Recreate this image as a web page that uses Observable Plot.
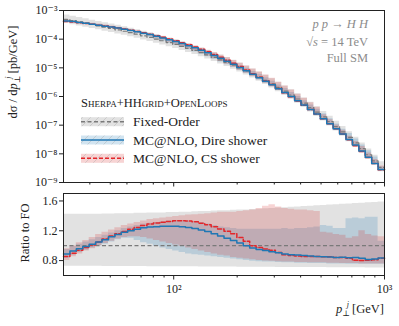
<!DOCTYPE html>
<html><head><meta charset="utf-8">
<script src="https://cdn.jsdelivr.net/npm/d3@7"></script>
<script src="https://cdn.jsdelivr.net/npm/@observablehq/plot@0.6"></script>
<style>
body{margin:0;background:#fff}
#fig{position:relative;width:399px;height:326px}
#fig svg{position:absolute;left:0}
#fig text, #fig tspan{font-family:"Liberation Serif","DejaVu Serif",serif !important}
</style></head><body><div id="fig"></div>
<script>
// bin edges (GeV)
const edges = [30.0,32.18,34.52,37.03,39.72,42.60,45.70,49.02,52.58,56.40,60.50,64.89,69.60,74.66,80.08,85.90,92.14,98.84,106.02,113.72,121.98,130.85,140.35,150.55,161.49,173.21,185.80,199.30,213.78,229.31,245.97,263.84,283.01,303.58,325.63,349.29,374.67,401.90,431.10,462.42,496.02,532.06,570.72,612.19,656.67,704.39,755.57,810.47,869.36,932.53,1000];
// fixed-order dsigma/dpT (pb/GeV)
const fo = [4.88e-4,4.41e-4,3.99e-4,3.60e-4,3.25e-4,2.93e-4,2.63e-4,2.36e-4,2.12e-4,1.89e-4,
1.68e-4,1.49e-4,1.31e-4,1.155e-4,1.01e-4,8.80e-5,7.62e-5,6.57e-5,5.62e-5,4.78e-5,
4.04e-5,3.39e-5,2.82e-5,2.33e-5,1.91e-5,1.55e-5,1.25e-5,9.96e-6,7.87e-6,6.16e-6,
4.77e-6,3.66e-6,2.78e-6,2.08e-6,1.54e-6,1.13e-6,8.17e-7,5.83e-7,4.11e-7,2.86e-7,
1.96e-7,1.33e-7,8.86e-8,5.82e-8,3.77e-8,2.40e-8,1.51e-8,9.30e-9,5.65e-9,3.37e-9];
// ratios to FO
const foHi = [1.42,1.42,1.42,1.42,1.42,1.42,1.425,1.425,1.43,1.43,1.43,1.435,1.435,1.44,1.44,1.44,1.445,1.445,1.45,1.45,1.455,1.46,1.46,1.465,1.47,1.47,1.475,1.48,1.48,1.485,1.49,1.495,1.50,1.505,1.51,1.515,1.52,1.525,1.53,1.535,1.54,1.545,1.55,1.555,1.56,1.565,1.57,1.575,1.58,1.585];
const foLo = [0.725,0.725,0.724,0.724,0.723,0.723,0.722,0.722,0.721,0.721,0.72,0.72,0.72,0.719,0.719,0.718,0.718,0.717,0.717,0.716,0.716,0.715,0.715,0.714,0.714,0.713,0.713,0.712,0.712,0.711,0.711,0.71,0.71,0.709,0.709,0.708,0.708,0.707,0.707,0.706,0.706,0.705,0.705,0.704,0.704,0.703,0.703,0.702,0.702,0.70];
const direR = [0.89,0.93,0.96,0.99,1.02,1.05,1.08,1.12,1.15,1.18,1.20,1.22,1.24,1.25,1.255,1.26,1.262,1.26,1.255,1.245,1.23,1.21,1.19,1.16,1.13,1.10,1.07,1.035,1.00,0.97,0.95,0.935,0.92,0.905,0.89,0.88,0.875,0.867,0.86,0.855,0.852,0.848,0.84,0.845,0.838,0.84,0.83,0.815,0.82,0.835];
const direLo = [0.83,0.87,0.91,0.94,0.97,1.00,1.02,1.05,1.08,1.10,1.10,1.07,1.04,1.02,0.99,0.97,0.95,0.93,0.91,0.89,0.88,0.87,0.86,0.85,0.84,0.83,0.82,0.81,0.80,0.79,0.785,0.78,0.78,0.775,0.77,0.77,0.765,0.765,0.76,0.76,0.76,0.755,0.755,0.755,0.75,0.75,0.75,0.75,0.75,0.75];
const direHi = [0.95,0.99,1.02,1.05,1.08,1.11,1.14,1.17,1.20,1.23,1.25,1.27,1.29,1.30,1.31,1.32,1.33,1.33,1.33,1.33,1.32,1.31,1.29,1.27,1.25,1.24,1.23,1.22,1.22,1.22,1.22,1.22,1.22,1.22,1.23,1.22,1.23,1.23,1.24,1.25,1.27,1.26,1.23,1.23,1.36,1.37,1.36,1.38,1.38,1.06];
const csR = [0.855,0.90,0.94,0.975,1.01,1.05,1.09,1.13,1.16,1.19,1.22,1.245,1.27,1.29,1.305,1.315,1.325,1.335,1.335,1.33,1.32,1.30,1.28,1.255,1.225,1.195,1.16,1.11,1.06,1.00,0.975,0.955,0.94,0.91,0.88,0.868,0.86,0.855,0.854,0.856,0.852,0.85,0.842,0.84,0.83,0.805,0.80,0.805,0.81,0.83];
const csLo = [0.80,0.85,0.89,0.93,0.96,1.00,1.03,1.06,1.09,1.11,1.12,1.12,1.11,1.09,1.07,1.05,1.03,1.01,0.99,0.97,0.95,0.93,0.91,0.89,0.87,0.86,0.84,0.83,0.82,0.81,0.80,0.795,0.79,0.785,0.78,0.78,0.775,0.775,0.77,0.77,0.77,0.765,0.765,0.76,0.76,0.76,0.755,0.755,0.755,0.755];
const csHi = [0.96,1.00,1.04,1.07,1.11,1.15,1.18,1.21,1.24,1.27,1.29,1.31,1.33,1.35,1.36,1.37,1.38,1.39,1.40,1.41,1.415,1.42,1.43,1.44,1.45,1.45,1.45,1.46,1.47,1.48,1.50,1.53,1.55,1.52,1.50,1.49,1.48,1.48,1.47,1.46,1.18,1.17,1.15,1.14,1.10,1.12,1.20,1.15,1.13,1.12];
// ticks
const yTicksTop = [1e-3,1e-4,1e-5,1e-6,1e-7,1e-8,1e-9];
const yTicksRatio = [0.8,1.2,1.6];
const xMajor = [100,1000];
const xMinor = [40,50,60,70,80,90,200,300,400,500,600,700,800,900];
const legendTitle = "Sherpa+HHgrid+OpenLoops";
const legendLabels = ["Fixed-Order","MC@NLO, Dire shower","MC@NLO, CS shower"];

const C = {blue:"#1f77b4", red:"#e3262a", grey:"#7a7a7a"};

function line(vals, scale){
  const pts = vals.map((v,i)=>({x:edges[i], y:v*(scale?scale[i]:1)}));
  pts.push({x:edges[edges.length-1], y:pts[pts.length-1].y});
  return pts;
}
function band(lo, hi, scale){
  const pts = lo.map((v,i)=>({x:edges[i], y1:v*(scale?scale[i]:1), y2:hi[i]*(scale?scale[i]:1)}));
  const l = pts[pts.length-1];
  pts.push({x:edges[edges.length-1], y1:l.y1, y2:l.y2});
  return pts;
}
const sup = {"-":"⁻","0":"⁰","1":"¹","2":"²","3":"³","4":"⁴","5":"⁵","6":"⁶","7":"⁷","8":"⁸","9":"⁹"};
const pow = d => "10" + String(Math.round(Math.log10(d))).split("").map(c=>sup[c]).join("");

function layers(scale){
  return [
    Plot.areaY(band(foLo, foHi, scale), {x:"x", y1:"y1", y2:"y2", curve:"step-after", fill:"#b4b4b4", fillOpacity:0.38}),
    Plot.areaY(band(direLo, direHi, scale), {x:"x", y1:"y1", y2:"y2", curve:"step-after", fill:C.blue, fillOpacity:0.2}),
    Plot.areaY(band(csLo, csHi, scale), {x:"x", y1:"y1", y2:"y2", curve:"step-after", fill:"#d62728", fillOpacity:0.2}),
  ];
}
const plotStyle = {fontFamily:"Liberation Serif", fontSize:"12px", background:"transparent", color:"#222", overflow:"visible"};

const topPlot = Plot.plot({
  width:399, height:186, marginLeft:63, marginRight:15, marginTop:10, marginBottom:4,
  style: plotStyle,
  x:{type:"log", domain:[30,1000], label:null},
  y:{type:"log", domain:[1e-9,1e-3], label:null},
  marks:[
    ...layers(fo),
    Plot.line(line(fo), {x:"x", y:"y", curve:"step-after", stroke:C.grey, strokeWidth:1.2, strokeDasharray:"4,2.5"}),
    Plot.line(line(csR, fo), {x:"x", y:"y", curve:"step-after", stroke:C.red, strokeWidth:1.5, strokeDasharray:"4,2"}),
    Plot.line(line(direR, fo), {x:"x", y:"y", curve:"step-after", stroke:C.blue, strokeWidth:1.5}),
    Plot.frame({stroke:"#222"}),
    Plot.axisY({ticks:yTicksTop, tickFormat:pow, tickSize:4, tickPadding:2, label:null, fontSize:12}),
    Plot.axisX({ticks:xMinor, tickSize:2.5, tickFormat:()=>"", label:null}),
    Plot.axisX({ticks:xMajor, tickSize:4.5, tickFormat:()=>"", label:null})
  ]
});

const ratioPlot = Plot.plot({
  width:399, height:140, marginLeft:63, marginRight:15, marginTop:7, marginBottom:51,
  style: plotStyle,
  x:{type:"log", domain:[30,1000], label:null},
  y:{domain:[0.6,1.7], label:null},
  marks:[
    ...layers(null),
    Plot.ruleY([1], {stroke:C.grey, strokeWidth:1.2, strokeDasharray:"4,2.5"}),
    Plot.line(line(csR), {x:"x", y:"y", curve:"step-after", stroke:C.red, strokeWidth:1.5, strokeDasharray:"4,2"}),
    Plot.line(line(direR), {x:"x", y:"y", curve:"step-after", stroke:C.blue, strokeWidth:1.5}),
    Plot.frame({stroke:"#222"}),
    Plot.axisY({ticks:yTicksRatio, tickFormat:d3.format(".1f"), tickSize:4, tickPadding:2, label:null, fontSize:12}),
    Plot.axisX({ticks:xMinor, tickSize:2.5, tickFormat:()=>"", label:null}),
    Plot.axisX({ticks:xMajor, tickSize:4.5, tickPadding:4, tickFormat:pow, label:null, fontSize:12})
  ]
});

const fig = document.getElementById("fig");
topPlot.style.top = "0px"; ratioPlot.style.top = "186px";
fig.appendChild(topPlot); fig.appendChild(ratioPlot);

function rich(g, parts, attrs){
  const t = g.append("text");
  for (const [k,v] of Object.entries(attrs)) t.attr(k,v);
  for (const p of parts){
    const s = t.append("tspan").text(p.t);
    if (p.i) s.attr("font-style","italic");
    if (p.s) s.attr("font-size", p.s);
    if (p.dy) s.attr("dy", p.dy);
    if (p.dx) s.attr("dx", p.dx);
  }
  return t;
}
const ts = d3.select(topPlot), rs = d3.select(ratioPlot);
const ff = {fill:"#222", "font-size":"12.5px"};

// y labels
rich(ts, [{t:"dσ / d"},{t:"p",i:1},{t:"⊥",s:"8px",dy:3},{t:"j",i:1,s:"8px",dx:-3,dy:-9},{t:" [pb/GeV]",dy:6}],
  {...ff, "text-anchor":"middle", transform:"translate(17,72) rotate(-90)"});
rich(rs, [{t:"Ratio to FO"}], {...ff, "text-anchor":"middle", transform:"translate(29,47) rotate(-90)"});
// x label
rich(rs, [{t:"p",i:1},{t:"⊥",s:"8px",dy:3},{t:"j",i:1,s:"8px",dx:-3,dy:-9},{t:" [GeV]",dy:6}],
  {...ff, "text-anchor":"end", x:384, y:127});

// annotation
const ann = {fill:"#8c8c8c", "font-size":"12.5px", "text-anchor":"end"};
rich(ts, [{t:"p",i:1},{t:" "},{t:"p",i:1},{t:" → "},{t:"H",i:1},{t:" "},{t:"H",i:1}], {...ann, x:368, y:28});
rich(ts, [{t:"√"},{t:"s",i:1},{t:" = 14 TeV"}], {...ann, x:368, y:46});
rich(ts, [{t:"Full SM"}], {...ann, x:368, y:62});

// legend
const defs = ts.append("defs");
const pat = defs.append("pattern").attr("id","hatch").attr("patternUnits","userSpaceOnUse").attr("width",8).attr("height",8);
pat.append("path").attr("d","M0,8 L8,0 M-2,2 L2,-2 M6,10 L10,6").attr("stroke","#a0a0a0").attr("stroke-width",0.6).attr("opacity",0.6);
ts.append("text").attr("font-size","12.5px").attr("fill","#222").attr("text-anchor","start")
  .style("font-variant","small-caps").attr("x",81).attr("y",107).text(legendTitle);
const entries = [
  {fill:"#b4b4b4", op:0.38, stroke:C.grey, dash:"4,2.5", y:121.7},
  {fill:C.blue, op:0.2, stroke:C.blue, dash:null, y:140},
  {fill:"#d62728", op:0.2, stroke:C.red, dash:"4,2", y:158.3}
];
entries.forEach((e,k)=>{
  ts.append("rect").attr("x",81).attr("y",e.y-4.5).attr("width",43).attr("height",9).attr("fill",e.fill).attr("fill-opacity",e.op);
  ts.append("rect").attr("x",81).attr("y",e.y-4.5).attr("width",43).attr("height",9).attr("fill","url(#hatch)");
  const l = ts.append("line").attr("x1",81).attr("x2",124).attr("y1",e.y).attr("y2",e.y).attr("stroke",e.stroke).attr("stroke-width",1.5);
  if (e.dash) l.attr("stroke-dasharray",e.dash);
  ts.append("text").attr("font-size","13.5px").attr("fill","#222").attr("text-anchor","start")
    .attr("x",133).attr("y",e.y+4.5).text(legendLabels[k]);
});
</script></body></html>
